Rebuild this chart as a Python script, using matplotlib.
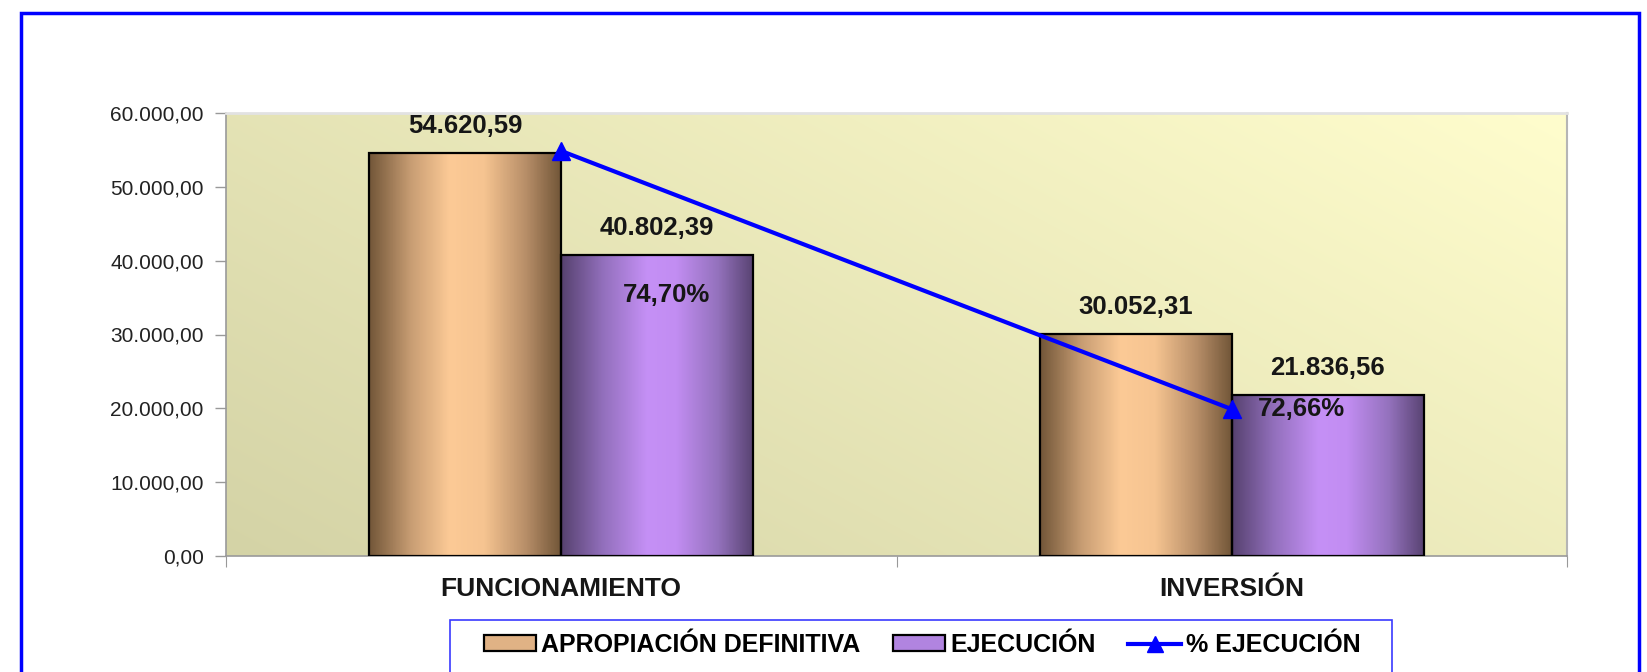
import numpy as np
import matplotlib
matplotlib.use("Agg")
import matplotlib.pyplot as plt
from matplotlib.colors import LinearSegmentedColormap, to_rgb
from matplotlib.patches import Rectangle, Patch
from matplotlib.lines import Line2D

# data
categories = ["FUNCIONAMIENTO", "INVERSIÓN"]
apropiacion = [54620.59, 30052.31]
ejecucion = [40802.39, 21836.56]
pct_ejecucion = [74.70, 72.66]
series_names = ["APROPIACIÓN DEFINITIVA", "EJECUCIÓN", "% EJECUCIÓN"]

plt.rcParams['font.family'] = ['Liberation Sans', 'DejaVu Sans']


def fmt_num(v):
    s = f"{v:,.2f}"
    return s.replace(",", "X").replace(".", ",").replace("X", ".")


def fmt_pct(v):
    return f"{v:.2f}%".replace(".", ",")


W, H = 1647, 672
fig = plt.figure(figsize=(W / 100, H / 100), dpi=100)
fig.patch.set_facecolor("white")

# blue outer frame
fig.patches.append(Rectangle((21 / W, -0.05), (1639 - 21) / W, 1.05 - 12.6 / H,
                             transform=fig.transFigure, fill=False,
                             edgecolor="#0000ff", lw=2.5, clip_on=False))

x0, x1, y0, y1 = 226, 1567, 113, 556
ax = fig.add_axes([x0 / W, 1 - y1 / H, (x1 - x0) / W, (y1 - y0) / H])

# plot area gradient (dark bottom-left -> pale yellow top-right)
nx, ny = 300, 100
u = np.linspace(0, 1, nx)[None, :]
v = np.linspace(1, 0, ny)[:, None]
t = np.clip(0.62 * u + 0.38 * v, 0, 1)
c_dark = np.array(to_rgb("#d4d3a6"))
c_light = np.array(to_rgb("#fffdcd"))
bg = c_dark + (c_light - c_dark) * t[..., None]
ax.imshow(bg, extent=[-0.5, 1.5, 0, 60000], aspect="auto", zorder=0,
          interpolation="bilinear")

cmap_or = LinearSegmentedColormap.from_list("or", [
    (0.0, "#735739"), (0.22, "#c99e74"), (0.42, "#fcca96"),
    (0.6, "#f6c491"), (0.82, "#b78e68"), (1.0, "#735739")])
cmap_pu = LinearSegmentedColormap.from_list("pu", [
    (0.0, "#574270"), (0.22, "#9370bd"), (0.45, "#c590f6"),
    (0.6, "#c28df2"), (0.82, "#9472bd"), (1.0, "#5a4474")])

bw = 192 / 670.5
xs = np.arange(len(categories))
grad = np.linspace(0, 1, 200)[None, :]
for vals, cmap, off in [(apropiacion, cmap_or, -bw / 2), (ejecucion, cmap_pu, bw / 2)]:
    bars = ax.bar(xs + off, vals, width=bw, facecolor="none", edgecolor="black",
                  lw=1.6, zorder=3)
    for b in bars:
        bx, bwid, bh = b.get_x(), b.get_width(), b.get_height()
        ax.imshow(grad, cmap=cmap, extent=[bx, bx + bwid, 0, bh], aspect="auto",
                  zorder=2, interpolation="bilinear")
        ax.annotate(fmt_num(bh), (bx + bwid / 2, bh), xytext=(0, 27),
                    textcoords="offset pixels", ha="center", va="center",
                    fontsize=18.5, fontweight="bold", color="#161616", zorder=5)

ax.set_xlim(-0.5, 1.5)
ax.set_ylim(0, 60000)
ax.set_yticks(np.arange(0, 60001, 10000))
ax.set_yticklabels([fmt_num(v) for v in np.arange(0, 60001, 10000)])
ax.tick_params(axis="y", direction="out", length=8, width=1, color="#999999",
               labelsize=15, labelcolor="#222222", pad=8)
ax.set_xticks([-0.5, 0.5, 1.5])
ax.set_xticklabels([])
ax.set_xticks(xs, minor=True)
ax.set_xticklabels(categories, minor=True, fontsize=19, fontweight="bold",
                   color="#161616")
ax.tick_params(axis="x", which="major", direction="out", length=8, color="#999999")
ax.tick_params(axis="x", which="minor", length=0, pad=15)
for s in ["left", "bottom"]:
    ax.spines[s].set_color("#9a9a9a")
    ax.spines[s].set_linewidth(1.2)
ax.spines["top"].set_color("#e2e2e2")
ax.spines["top"].set_linewidth(2)
ax.spines["right"].set_color("#b5b5b5")
ax.spines["right"].set_linewidth(1.5)

# secondary axis for % line
ax2 = ax.twinx()
ax2.set_ylim(71.5, 75.0)
ax2.plot(xs, pct_ejecucion, color="#0000ff", lw=3, marker="^", markersize=13,
         zorder=6, clip_on=False)
ax2.axis("off")
offsets = [(105, -144), (70, 0)]
for xi, p, o in zip(xs, pct_ejecucion, offsets):
    ax2.annotate(fmt_pct(p), (xi, p), xytext=o, textcoords="offset pixels",
                 ha="center", va="center", fontsize=18.5, fontweight="bold",
                 color="#161616")

# legend box
fig.patches.append(Rectangle((450 / W, -0.05), (1392 - 450) / W, 0.05 + 1 - 620 / H,
                             transform=fig.transFigure, fill=False,
                             edgecolor="#3a3aff", lw=1.2, clip_on=False))
handles = [Patch(facecolor="#e0b285", edgecolor="black", lw=1.6),
           Patch(facecolor="#b184e0", edgecolor="black", lw=1.6),
           Line2D([], [], color="#0000ff", lw=3, marker="^", markersize=12)]
fig.legend(handles, series_names, loc="center", bbox_to_anchor=(922 / W, 1 - 645 / H),
           ncol=3, frameon=False, prop={"size": 18, "weight": "bold"},
           handlelength=2.1, handleheight=0.6, handletextpad=0.2, columnspacing=1.3)

fig.savefig("out.png", dpi=100)
